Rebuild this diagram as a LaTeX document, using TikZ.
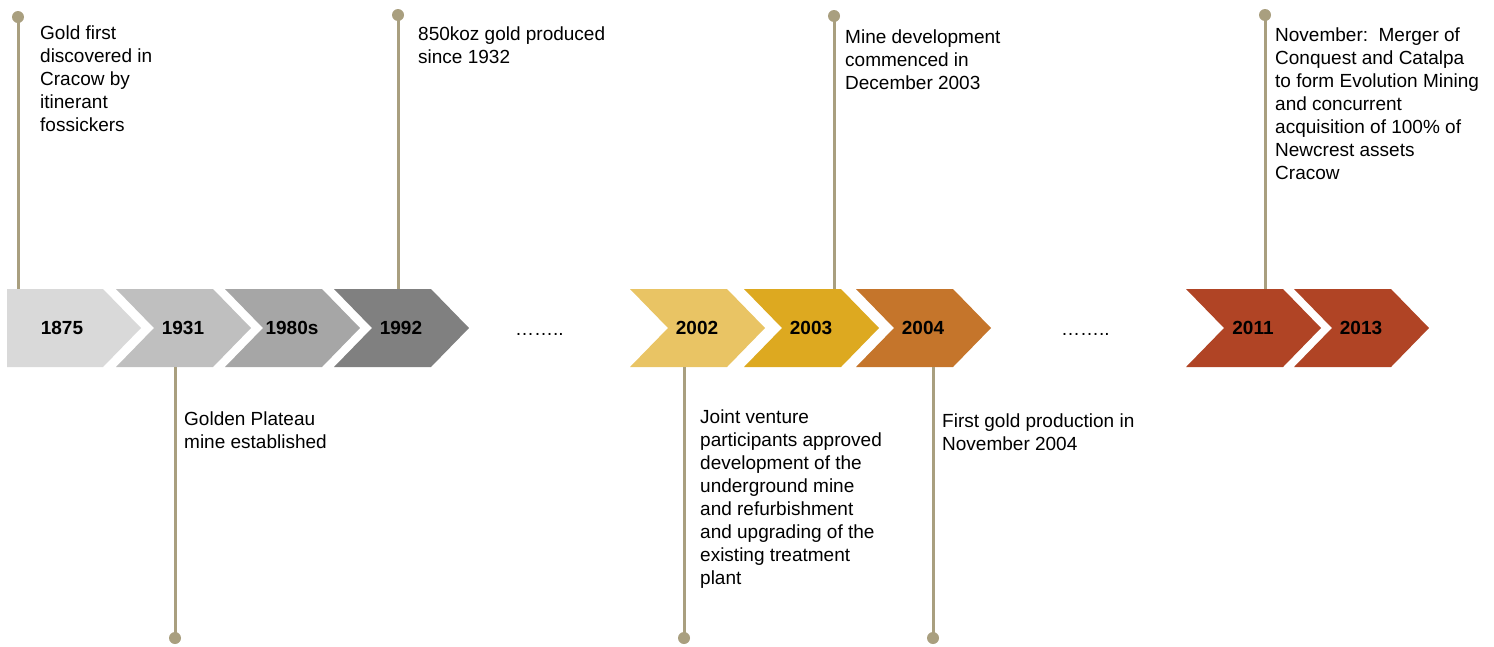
\documentclass[tikz,border=0pt]{standalone}
\usepackage{fontspec}
\setmainfont{Liberation Sans}
\definecolor{linecol}{HTML}{A99F7F}
\definecolor{cA}{HTML}{D9D9D9}
\definecolor{cB}{HTML}{BFBFBF}
\definecolor{cC}{HTML}{A6A6A6}
\definecolor{cD}{HTML}{808080}
\definecolor{cE}{HTML}{E9C464}
\definecolor{cF}{HTML}{DDA920}
\definecolor{cG}{HTML}{C5752B}
\definecolor{cH}{HTML}{B04425}
\newcommand\notchchev[2]{\fill[#2] (#1,289) -- ++(97,0) -- ++(38,39) -- ++(-38,39) -- ++(-97,0) -- ++(38,-39) -- cycle;}
\newcommand\txtlines[1]{\begin{tabular}[t]{@{}l@{}}#1\end{tabular}}
\begin{document}
\begin{tikzpicture}[x=1pt,y=-1pt,
  year/.style={font=\fontsize{19}{23}\selectfont\bfseries, minimum height=78pt, inner sep=0pt},
  note/.style={font=\fontsize{19}{23}\selectfont, anchor=base west, inner sep=0pt, align=left},
  conn/.style={draw=linecol, line width=3pt},
  enddot/.style={fill=linecol}]
\useasboundingbox (0,0) rectangle (1494,646);
% chevrons
\fill[cA] (7,289) -- (103,289) -- (141,328) -- (103,367) -- (7,367) -- cycle;
\notchchev{116}{cB}
\notchchev{225}{cC}
\notchchev{334}{cD}
\notchchev{630}{cE}
\notchchev{744}{cF}
\notchchev{856}{cG}
\notchchev{1186}{cH}
\notchchev{1294}{cH}
% year labels
\node[year] (c1875) at (62,328) {1875};
\node[year] (c1931) at (183,328) {1931};
\node[year] (c1980) at (292,328) {1980s};
\node[year] (c1992) at (401,328) {1992};
\node[year] (c2002) at (697,328) {2002};
\node[year] (c2003) at (811,328) {2003};
\node[year] (c2004) at (923,328) {2004};
\node[year] (c2011) at (1253,328) {2011};
\node[year] (c2013) at (1361,328) {2013};
\node[note] (gap1) at (515,335) {……..};
\node[note] (gap2) at (1061,335) {……..};
% connector ends
\coordinate (d1875) at (18,17);
\coordinate (d1931) at (175,638);
\coordinate (d1992) at (398,15);
\coordinate (d2002) at (684,638);
\coordinate (d2003) at (834,16);
\coordinate (d2004) at (933,638);
\coordinate (d2011) at (1265,15);
\draw[conn] (d1875) -- (d1875 |- c1875.north);
\draw[conn] (d1992) -- (d1992 |- c1992.north);
\draw[conn] (d2003) -- (d2003 |- c2003.north);
\draw[conn] (d2011) -- (d2011 |- c2011.north);
\draw[conn] (c1931.south -| d1931) -- (d1931);
\draw[conn] (c2002.south -| d2002) -- (d2002);
\draw[conn] (c2004.south -| d2004) -- (d2004);
\foreach \d in {d1875,d1931,d1992,d2002,d2003,d2004,d2011} \fill[enddot] (\d) circle (6pt);
% notes
\node[note] (t1875) at (40,39.5) {\txtlines{Gold first\\discovered in\\Cracow by\\itinerant\\fossickers}};
\node[note] (t1992) at (418,40) {\txtlines{850koz gold produced\\since 1932}};
\node[note] (t2003) at (845,43) {\txtlines{Mine development\\commenced in\\December 2003}};
\node[note] (t2011) at (1275,41.5) {\txtlines{November:\ \ Merger of\\Conquest and Catalpa\\to form Evolution Mining\\and concurrent\\acquisition of 100\% of\\Newcrest assets\\Cracow}};
\node[note] (t1931) at (184,425) {\txtlines{Golden Plateau\\mine established}};
\node[note] (t2002) at (700,423) {\txtlines{Joint venture\\participants approved\\development of the\\underground mine\\and refurbishment\\and upgrading of the\\existing treatment\\plant}};
\node[note] (t2004) at (942,427.5) {\txtlines{First gold production in\\November 2004}};
\end{tikzpicture}
\end{document}
